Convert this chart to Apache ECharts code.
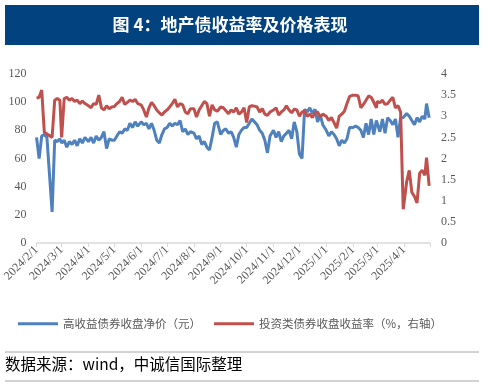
<!DOCTYPE html>
<html>
<head>
<meta charset="utf-8">
<script src="https://cdn.jsdelivr.net/npm/echarts@6/dist/echarts.min.js"></script>
<style>
html,body{margin:0;padding:0;background:#fff;}
#chart{width:488px;height:387px;}
</style>
</head>
<body>
<div id="chart"></div>
<script>
// ---- data ----
const dates = [
'2024-02-01','2024-02-04','2024-02-07','2024-02-10','2024-02-13','2024-02-16','2024-02-19','2024-02-22','2024-02-25','2024-02-28',
'2024-03-01','2024-03-04','2024-03-07','2024-03-10','2024-03-13','2024-03-16','2024-03-19','2024-03-22','2024-03-25','2024-03-28',
'2024-04-01','2024-04-04','2024-04-07','2024-04-10','2024-04-13','2024-04-16','2024-04-19','2024-04-22','2024-04-25','2024-04-28',
'2024-05-01','2024-05-04','2024-05-07','2024-05-10','2024-05-13','2024-05-16','2024-05-19','2024-05-22','2024-05-25','2024-05-28',
'2024-06-01','2024-06-04','2024-06-07','2024-06-10','2024-06-13','2024-06-16','2024-06-19','2024-06-22','2024-06-25','2024-06-28',
'2024-07-01','2024-07-04','2024-07-07','2024-07-10','2024-07-13','2024-07-16','2024-07-19','2024-07-22','2024-07-25','2024-07-28',
'2024-08-01','2024-08-04','2024-08-07','2024-08-10','2024-08-13','2024-08-16','2024-08-19','2024-08-22','2024-08-25','2024-08-28',
'2024-09-01','2024-09-04','2024-09-07','2024-09-10','2024-09-13','2024-09-16','2024-09-19','2024-09-22','2024-09-25','2024-09-28',
'2024-10-01','2024-10-04','2024-10-07','2024-10-10','2024-10-13','2024-10-16','2024-10-19','2024-10-22','2024-10-25','2024-10-28',
'2024-11-01','2024-11-04','2024-11-07','2024-11-10','2024-11-13','2024-11-16','2024-11-19','2024-11-22','2024-11-25','2024-11-28',
'2024-12-01','2024-12-04','2024-12-07','2024-12-10','2024-12-13','2024-12-16','2024-12-19','2024-12-22','2024-12-25','2024-12-28',
'2025-01-01','2025-01-04','2025-01-07','2025-01-10','2025-01-13','2025-01-16','2025-01-19','2025-01-22','2025-01-25','2025-01-28',
'2025-02-01','2025-02-04','2025-02-07','2025-02-10','2025-02-13','2025-02-16','2025-02-19','2025-02-22','2025-02-25','2025-02-28',
'2025-03-01','2025-03-04','2025-03-07','2025-03-10','2025-03-13','2025-03-16','2025-03-19','2025-03-22','2025-03-25','2025-03-28','2025-03-31',
'2025-04-01','2025-04-04','2025-04-07','2025-04-10','2025-04-13','2025-04-16','2025-04-19','2025-04-22','2025-04-25','2025-04-27','2025-04-30'
];
// 高收益债券收盘净价（元） - left axis
const priceValues = [
75,60,76,77,75,null,22,73,72,74,
71,73,68,72,70,73,69,74,71,75,
72,75,71,76,73,75,79,67,74,73,
73,76,79,78,81,80,85,82,86,83,
86,84,85,81,85,80,73,71,77,81,
82,85,83,85,84,87,79,81,77,79,
78,74,76,70,72,68,66,75,85,86,
77,80,81,78,79,75,68,77,80,82,
82,85,88,86,84,80,78,73,64,76,
80,75,79,72,76,78,80,74,86,79,
63,60,95,93,96,92,95,86,91,84,
80,76,79,77,74,69,73,71,74,82,
82,83,82,80,75,85,77,88,77,87,
86,79,88,78,89,87,84,88,75,89,89,
90,92,90,87,84,89,86,90,88,99,89
];
// 投资类债券收盘收益率（%，右轴） - right axis
const yieldValues = [
3.43,3.45,3.62,2.62,null,null,2.5,3.38,3.42,3.38,
2.5,3.42,3.45,3.38,3.42,3.35,3.38,3.3,3.36,3.3,
3.25,3.2,3.3,3.28,3.5,3.2,3.15,3.25,3.18,3.22,
3.23,3.3,3.35,3.45,3.28,3.33,3.38,3.35,3.4,3.3,
3.27,3.15,2.98,3.2,3.33,3.25,3.15,3.08,3.03,3.1,
3.15,3.22,3.3,3.4,3.22,3.3,3.27,3.1,3.06,3.18,
3.18,2.98,3.15,3.25,3.35,3.3,3.0,3.27,3.15,3.12,
3.22,3.2,3.13,3.06,3.15,3.1,3.2,3.05,3.1,3.2,
2.85,3.22,3.25,3.24,3.22,3.1,3.18,3.05,3.02,3.1,
3.15,3.2,3.03,3.1,3.15,3.25,3.15,3.08,3.17,3.15,
3.0,3.1,3.12,3.0,3.05,2.97,3.08,3.1,2.98,3.05,
3.0,2.9,2.97,2.85,2.72,3.0,3.05,3.12,3.3,3.47,
3.5,3.5,3.48,3.2,3.28,3.38,3.48,3.45,3.33,3.2,
3.35,3.32,3.38,3.28,3.3,3.38,3.45,3.2,3.25,3.1,0.8,
0.95,1.45,1.72,1.2,1.1,0.95,1.65,1.72,1.6,2.02,1.35
];
const seriesNames = ['高收益债券收盘净价（元）', '投资类债券收盘收益率（%，右轴）'];
const xTickLabels = ['2024/2/1','2024/3/1','2024/4/1','2024/5/1','2024/6/1','2024/7/1','2024/8/1','2024/9/1','2024/10/1','2024/11/1','2024/12/1','2025/1/1','2025/2/1','2025/3/1','2025/4/1'];
const xAxisEnd = '2025/5/1';
const titleText = '图 4：地产债收益率及价格表现';
const sourceText = '数据来源：wind，中诚信国际整理';

function toTs(s){ const p = s.split(/[\/-]/).map(Number); return Date.UTC(p[0], p[1]-1, p[2]); }
const labelTs = xTickLabels.map(toTs);
const tickTs = labelTs.concat([toTs(xAxisEnd)]);
const labelMap = {};
xTickLabels.forEach((s,i)=>{ labelMap[labelTs[i]] = s; });

const chart = echarts.init(document.getElementById('chart'), null, {renderer:'canvas'});
const axisFont = {color:'#595959', fontFamily:'Liberation Serif', fontSize:12};

chart.setOption({
  animation:false,
  backgroundColor:'#fff',
  grid:{left:32, right:58, top:74, bottom:144, containLabel:false},
  legend:{
    left:13, top:313, itemWidth:40, itemHeight:3, itemGap:13,
    textStyle:{color:'#595959', fontSize:11.5, fontFamily:'Noto Sans CJK SC'},
    data:[{name:seriesNames[0], icon:'rect'},{name:seriesNames[1], icon:'rect'}]
  },
  xAxis:{
    type:'value', min:labelTs[0], max:toTs(xAxisEnd), scale:true,
    axisLine:{show:true, onZero:false, lineStyle:{color:'#d9d9d9', width:1.5}},
    axisTick:{show:true, length:4, lineStyle:{color:'#d9d9d9'}, customValues:tickTs},
    splitLine:{show:false},
    axisLabel:Object.assign({rotate:45, margin:5, customValues:labelTs,
      formatter:function(v){ return labelMap[v] || ''; }}, axisFont)
  },
  yAxis:[
    {type:'value', min:0, max:120, interval:20, position:'left',
     axisLine:{show:false}, axisTick:{show:false}, splitLine:{show:false},
     axisLabel:Object.assign({margin:10}, axisFont)},
    {type:'value', min:0, max:4, interval:0.5, position:'right',
     axisLine:{show:false}, axisTick:{show:false}, splitLine:{show:false},
     axisLabel:Object.assign({margin:11}, axisFont)}
  ],
  series:[
    {name:seriesNames[0], type:'line', yAxisIndex:0, showSymbol:false, connectNulls:true,
     lineStyle:{width:3, color:'#4f81bd'}, itemStyle:{color:'#4f81bd'},
     data:dates.map((d,i)=>[toTs(d), priceValues[i]])},
    {name:seriesNames[1], type:'line', yAxisIndex:1, showSymbol:false, connectNulls:true,
     lineStyle:{width:3, color:'#c0504d'}, itemStyle:{color:'#c0504d'},
     data:dates.map((d,i)=>[toTs(d), yieldValues[i]])}
  ],
  graphic:[
    {type:'rect', shape:{x:5, y:5, width:474, height:40}, style:{fill:'#02437f'}},
    {type:'text', x:230, y:25, style:{text:titleText, fill:'#fff', font:'bold 17px "Noto Sans CJK SC"', align:'center', verticalAlign:'middle'}},
    {type:'line', shape:{x1:5, y1:352, x2:479, y2:352}, style:{stroke:'#a6a6a6', lineWidth:1}},
    {type:'text', x:5, y:364, style:{text:sourceText, fill:'#000', font:'15.5px "Noto Sans CJK SC"', align:'left', verticalAlign:'middle'}},
    {type:'line', shape:{x1:5, y1:381, x2:479, y2:381}, style:{stroke:'#a6a6a6', lineWidth:1}}
  ]
});
</script>
</body>
</html>
